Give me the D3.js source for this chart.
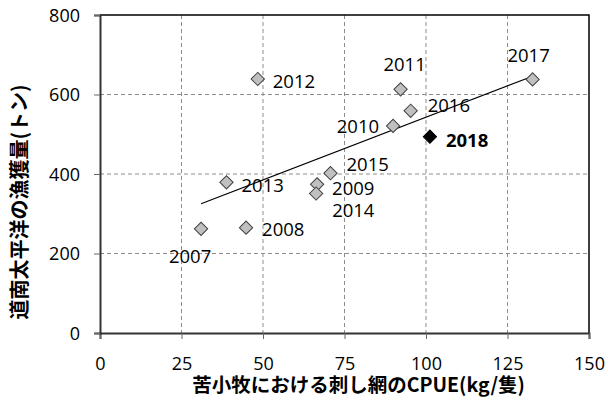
<!DOCTYPE html>
<html>
<head>
<meta charset="utf-8">
<script src="https://cdn.jsdelivr.net/npm/d3@7"></script>
<style>
    body { margin: 0; background: #fff; }
    text { font-family: "Open Sans", "Noto Sans CJK JP", sans-serif; fill: #000; }
    .jp { font-family: "Noto Sans CJK JP", sans-serif; font-weight: bold; }
</style>
</head>
<body>
<div id="chart"></div>
<script>
// Data
var years = ["2007", "2008", "2009", "2010", "2011", "2012", "2013", "2014", "2015", "2016", "2017", "2018"];
var cpue = [31.0, 44.8, 66.6, 89.9, 92.2, 48.4, 38.8, 66.3, 70.7, 95.3, 132.7, 101.2];
var catchTons = [262, 265, 374, 521, 613, 639, 379, 351, 402, 559, 638, 494];
var highlightYear = "2018";

var xTicks = [0, 25, 50, 75, 100, 125, 150];
var yTicks = [0, 200, 400, 600, 800];

// where each year label sits relative to its marker (dx, dy, anchor)
var labelPlacement = {
    "2007": [-11, 34, "middle"],
    "2008": [16, 8, "start"],
    "2009": [15, 11, "start"],
    "2010": [-14, 7, "end"],
    "2011": [4, -18, "middle"],
    "2012": [15, 9, "start"],
    "2013": [15, 10, "start"],
    "2014": [16, 24, "start"],
    "2015": [16, -2, "start"],
    "2016": [17, 1, "start"],
    "2017": [-4, -17, "middle"],
    "2018": [16, 10, "start"]
};

var width = 608, height = 405;
var margin = {top: 15, right: 19, bottom: 72, left: 100};
var w = width - margin.left - margin.right;
var h = height - margin.top - margin.bottom;

var svg = d3.select("#chart")
    .append("svg")
    .attr("width", width)
    .attr("height", height);

var g = svg.append("g")
    .attr("transform", "translate(" + margin.left + "," + margin.top + ")");

var x = d3.scaleLinear().domain([0, 150]).range([0, w]);
var y = d3.scaleLinear().domain([0, 800]).range([h, 0]);

// dashed grid
g.selectAll(".vgrid")
    .data(xTicks.slice(1, -1))
    .enter().append("line")
    .attr("x1", d => x(d)).attr("x2", d => x(d))
    .attr("y1", 0).attr("y2", h)
    .attr("stroke", "#8c8c8c")
    .attr("stroke-dasharray", "4,3");

g.selectAll(".hgrid")
    .data(yTicks.slice(1, -1))
    .enter().append("line")
    .attr("x1", 0).attr("x2", w)
    .attr("y1", d => y(d)).attr("y2", d => y(d))
    .attr("stroke", "#8c8c8c")
    .attr("stroke-dasharray", "4,3");

// frame (top + right)
g.append("path")
    .attr("d", "M0,0H" + w + "V" + h)
    .attr("fill", "none")
    .attr("stroke", "#000")
    .attr("stroke-width", 1.5);

// axes
var xAxis = g.append("g")
    .attr("transform", "translate(0," + h + ")")
    .call(d3.axisBottom(x).tickValues(xTicks).tickSize(6).tickPadding(18));

var yAxis = g.append("g")
    .call(d3.axisLeft(y).tickValues(yTicks).tickSize(6).tickPadding(14));

[xAxis, yAxis].forEach(function (a) {
    a.select(".domain").attr("stroke", "#333").attr("stroke-width", 2);
    a.selectAll(".tick line").attr("stroke", "#666");
    a.selectAll(".tick text")
        .style("font-size", "18px")
        .style("font-family", "'Open Sans', sans-serif")
        .attr("fill", "#000");
});
yAxis.selectAll(".tick text").attr("dy", "0.36em");

// linear trend over all years
var mx = d3.mean(cpue), my = d3.mean(catchTons);
var sxy = d3.sum(cpue, (v, i) => (v - mx) * (catchTons[i] - my));
var sxx = d3.sum(cpue, v => (v - mx) * (v - mx));
var slope = sxy / sxx;
var intercept = my - slope * mx;
var xExt = d3.extent(cpue);

g.append("line")
    .attr("x1", x(xExt[0])).attr("y1", y(intercept + slope * xExt[0]))
    .attr("x2", x(xExt[1])).attr("y2", y(intercept + slope * xExt[1]))
    .attr("stroke", "#000")
    .attr("stroke-width", 1.1);

// markers
var diamond = d3.symbol().type(d3.symbolSquare).size(88);

var pts = g.selectAll(".pt")
    .data(years)
    .enter().append("g")
    .attr("transform", (d, i) => "translate(" + x(cpue[i]) + "," + y(catchTons[i]) + ")");

pts.append("path")
    .attr("d", diamond)
    .attr("transform", "rotate(45)")
    .attr("fill", d => d === highlightYear ? "#000" : "#c0c0c0")
    .attr("stroke", d => d === highlightYear ? "#000" : "#404040")
    .attr("stroke-width", 1);

pts.append("text")
    .attr("x", d => labelPlacement[d][0])
    .attr("y", d => labelPlacement[d][1])
    .attr("text-anchor", d => labelPlacement[d][2])
    .style("font-size", "18.5px")
    .style("font-weight", d => d === highlightYear ? "bold" : "normal")
    .text(d => d);

// axis titles
svg.append("text")
    .attr("class", "jp")
    .attr("x", margin.left + w / 2 + 14)
    .attr("y", 392)
    .attr("text-anchor", "middle")
    .style("font-size", "19.5px")
    .text("苦小牧における刺し網のCPUE(kg/隻)");

svg.append("text")
    .attr("class", "jp")
    .attr("transform", "translate(27," + 202 + ") rotate(-90)")
    .attr("text-anchor", "middle")
    .style("font-size", "20px")
    .text("道南太平洋の漁獲量(トン)");
</script>
</body>
</html>
